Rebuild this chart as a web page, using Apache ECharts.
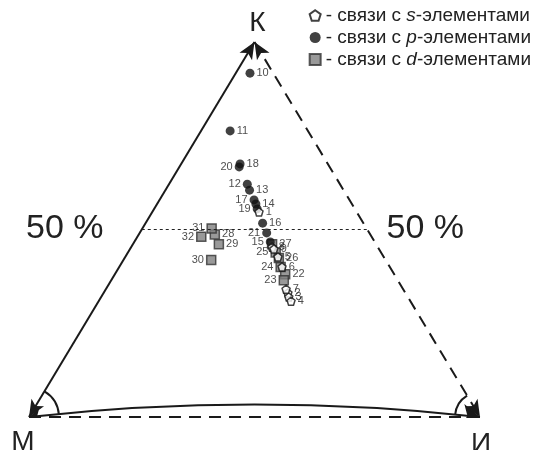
<!DOCTYPE html>
<html>
<head>
<meta charset="utf-8">
<script src="https://cdn.jsdelivr.net/npm/echarts@6/dist/echarts.min.js"></script>
<style>
  * { margin: 0; padding: 0; }
  body { background: #fff; }
</style>
</head>
<body>
<div id="main" style="width: 536px;height: 450px;"></div>
<script>
// x - position along the base М -> И (%), y - share of covalence К (%)
var sPoints = [
  [51.0, 54.7, 1], [57.4, 33.1, 2], [57.6, 32.0, 3], [58.1, 30.9, 4],
  [55.2, 42.7, 5], [56.1, 40.0, 6], [57.0, 34.1, 7], [53.9, 45.3, 8], [54.3, 44.8, 9]
]
var pPoints = [
  [49.0, 91.7, 10], [44.6, 76.3, 11], [48.4, 62.1, 12], [48.9, 60.5, 13],
  [50.3, 56.8, 14], [53.5, 46.7, 15], [51.8, 51.7, 16], [49.9, 57.9, 17],
  [46.8, 67.5, 18], [50.6, 55.5, 19], [46.6, 66.7, 20], [52.7, 49.1, 21]
]
var dPoints = [
  [56.8, 38.1, 22], [56.5, 36.5, 23], [55.8, 40.0, 24], [54.7, 43.9, 25],
  [55.4, 42.4, 26], [53.9, 46.1, 27], [41.2, 48.7, 28], [42.1, 46.1, 29],
  [40.4, 41.9, 30], [40.5, 50.3, 31], [38.2, 48.1, 32]
]
// numbers whose labels sit left of the marker
var leftLabels = [12, 15, 17, 19, 20, 21, 23, 24, 25, 30, 31, 32]
var seriesNames = ['s', 'p', 'd']
var halfLine = 50

var FONT = '"Liberation Sans", Arial, sans-serif'
var pentagon = 'path://M0,-10 L9.5,-3.1 L5.9,8.1 L-5.9,8.1 L-9.5,-3.1 Z'

function pointLabel(p) {
  return {
    show: true,
    position: leftLabels.indexOf(p[2]) >= 0 ? 'left' : 'right',
    distance: 2,
    formatter: String(p[2]),
    fontSize: 11,
    fontFamily: FONT,
    color: '#222'
  }
}
function toData(arr) {
  return arr.map(function (p) {
    return { value: [p[0], p[1]], label: pointLabel(p) }
  })
}

var chart = echarts.init(document.getElementById('main'))
var edge = { color: '#1a1a1a', width: 2 }

chart.setOption({
  animation: false,
  grid: { left: 29, right: 56, top: 42, bottom: 33 },
  xAxis: { type: 'value', min: 0, max: 100, show: false },
  yAxis: { type: 'value', min: 0, max: 100, show: false },
  legend: {
    orient: 'vertical',
    right: 0,
    top: 1,
    itemGap: 3,
    itemWidth: 11,
    itemHeight: 11,
    data: seriesNames,
    formatter: function (n) { return '- связи с {i|' + n + '}-элементами' },
    textStyle: {
      fontFamily: FONT, fontSize: 19, lineHeight: 19, color: '#222',
      rich: { i: { fontStyle: 'italic', fontFamily: FONT, fontSize: 19, lineHeight: 19, color: '#222' } }
    }
  },
  series: [
    {
      name: 'edges',
      type: 'line',
      data: [],
      silent: true,
      markLine: {
        silent: true,
        symbolSize: [11, 17],
        label: { show: false },
        data: [
          [{ coord: [0, 0], symbol: 'arrow', lineStyle: Object.assign({ type: 'solid' }, edge) },
           { coord: [50, 100], symbol: 'arrow' }],
          [{ coord: [50, 100], symbol: 'arrow', lineStyle: Object.assign({ type: [12, 8] }, edge) },
           { coord: [100, 0], symbol: 'arrow' }],
          [{ coord: [0, 0], symbol: 'none', lineStyle: Object.assign({ type: [12, 8] }, edge) },
           { coord: [100, 0], symbol: 'none' }],
          [{ coord: [25, halfLine], symbol: 'none', lineStyle: { type: [3, 3], width: 1, color: '#222' } },
           { coord: [75, halfLine], symbol: 'none' }]
        ]
      }
    },
    {
      name: 'curve',
      type: 'lines',
      coordinateSystem: 'cartesian2d',
      silent: true,
      symbol: ['arrow', 'arrow'],
      symbolSize: [11, 17],
      lineStyle: { type: 'solid', color: '#1a1a1a', width: 2, curveness: 0.055, opacity: 1 },
      data: [{ coords: [[0, 0], [100, 0]] }]
    },
    {
      name: 's',
      type: 'scatter',
      symbol: pentagon,
      symbolSize: 8,
      z: 4,
      itemStyle: { color: '#fff', borderColor: '#111', borderWidth: 1.5 },
      data: toData(sPoints)
    },
    {
      name: 'p',
      type: 'scatter',
      symbol: 'circle',
      symbolSize: 9,
      z: 3,
      itemStyle: { color: '#111' },
      data: toData(pPoints)
    },
    {
      name: 'd',
      type: 'scatter',
      symbol: 'rect',
      symbolSize: 9,
      z: 2,
      itemStyle: { color: '#808080', borderColor: '#333', borderWidth: 1.5 },
      data: toData(dPoints)
    }
  ]
})

// corner arcs and big labels placed through the grid scale
var M = chart.convertToPixel({ gridIndex: 0 }, [0, 0])
var I = chart.convertToPixel({ gridIndex: 0 }, [100, 0])
var K = chart.convertToPixel({ gridIndex: 0 }, [50, 100])
var H = chart.convertToPixel({ gridIndex: 0 }, [25, halfLine])
var H2 = chart.convertToPixel({ gridIndex: 0 }, [75, halfLine])
var angM = Math.atan2(K[1] - M[1], K[0] - M[0])
var angI = Math.atan2(K[1] - I[1], K[0] - I[0])
var big = { fontFamily: FONT, fontSize: 28, fill: '#222' }
var half = { fontFamily: FONT, fontSize: 34, fill: '#222' }

chart.setOption({
  graphic: [
    { type: 'arc', shape: { cx: M[0], cy: M[1], r: 30, startAngle: angM, endAngle: -0.08, clockwise: true },
      style: { stroke: '#1a1a1a', lineWidth: 2, fill: null } },
    { type: 'arc', shape: { cx: I[0], cy: I[1], r: 25, startAngle: angI, endAngle: Math.PI + 0.08, clockwise: false },
      style: { stroke: '#1a1a1a', lineWidth: 2, fill: null } },
    { type: 'text', x: K[0] + 3, y: K[1] - 5, style: Object.assign({ text: 'К', align: 'center', verticalAlign: 'bottom' }, big) },
    { type: 'text', x: M[0] - 6, y: M[1] + 11, style: Object.assign({ text: 'М', align: 'center', verticalAlign: 'top' }, big) },
    { type: 'text', x: I[0] + 1, y: I[1] + 13, style: Object.assign({ text: 'И', align: 'center', verticalAlign: 'top' }, big) },
    { type: 'text', x: H[0] - 77, y: H[1] - 1, style: Object.assign({ text: '50 %', align: 'center', verticalAlign: 'middle' }, half) },
    { type: 'text', x: H2[0] + 58, y: H2[1] - 1, style: Object.assign({ text: '50 %', align: 'center', verticalAlign: 'middle' }, half) }
  ]
})
</script>
</body>
</html>
